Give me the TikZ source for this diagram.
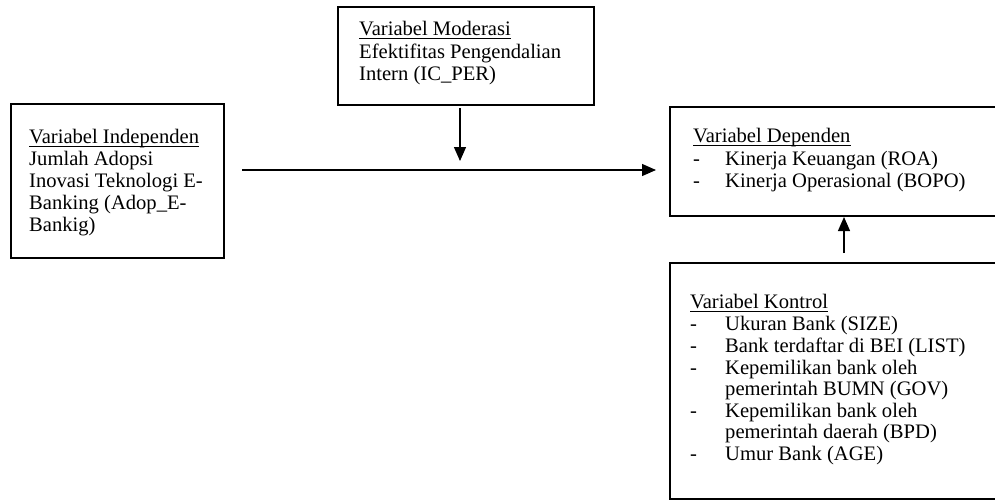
\documentclass[tikz,border=0pt]{standalone}
\usepackage{fontspec}
\setmainfont{Liberation Serif}
\usetikzlibrary{arrows.meta}
\begin{document}
\begin{tikzpicture}[x=1pt,y=-1pt,
  boxline/.style={draw=black,line width=2.4pt},
  txt/.style={anchor=base west,inner sep=0pt,font=\fontsize{20.6}{22}\selectfont},
  arr/.style={draw=black,line width=1.3pt,-{Triangle[length=14pt,width=12pt]}},
  uline/.style={draw=black,line width=1pt}]
\useasboundingbox (0,0) rectangle (995,499);
\clip (0,0) rectangle (995,499);
% boxes
\node[boxline,rectangle,minimum width=213pt,minimum height=154pt,anchor=north west,inner sep=0pt] (ind) at (10,103) {};
\node[boxline,rectangle,minimum width=256pt,minimum height=98pt,anchor=north west,inner sep=0pt] (mod) at (337,6) {};
\node[boxline,rectangle,minimum width=340pt,minimum height=109pt,anchor=north west,inner sep=0pt] (dep) at (669,106) {};
\node[boxline,rectangle,minimum width=340pt,minimum height=236pt,anchor=north west,inner sep=0pt] (kon) at (669,262) {};
% independent text
\node[txt] (i1) at (29,143) {Variabel Independen};
\node[txt] (i2) at (29,165) {Jumlah Adopsi};
\node[txt] (i3) at (29,187) {Inovasi Teknologi E-};
\node[txt] (i4) at (29,209) {Banking (Adop\_E-};
\node[txt] (i5) at (29,231) {Bankig)};
\draw[uline] ([yshift=-3pt]i1.base west) -- ([yshift=-3pt]i1.base east);
% moderation text
\node[txt] (m1) at (359,35) {Variabel Moderasi};
\node[txt] (m2) at (359,58) {Efektifitas Pengendalian};
\node[txt] (m3) at (359,80) {Intern (IC\_PER)};
\draw[uline] ([yshift=-3pt]m1.base west) -- ([yshift=-3pt]m1.base east);
% dependent text
\node[txt] (d1) at (693,142) {Variabel Dependen};
\node[txt] (dd1) at (693,165) {-};
\node[txt] (d2) at (725,165) {Kinerja Keuangan (ROA)};
\node[txt] (dd2) at (693,187) {-};
\node[txt] (d3) at (725,187) {Kinerja Operasional (BOPO)};
\draw[uline] ([yshift=-3pt]d1.base west) -- ([yshift=-3pt]d1.base east);
% control text
\node[txt] (k0) at (690,308) {Variabel Kontrol};
\draw[uline] ([yshift=-3pt]k0.base west) -- ([yshift=-3pt]k0.base east);
\node[txt] (kd1) at (690,330) {-};
\node[txt] (k1) at (725,330) {Ukuran Bank (SIZE)};
\node[txt] (kd2) at (690,352) {-};
\node[txt] (k2) at (725,352) {Bank terdaftar di BEI (LIST)};
\node[txt] (kd3) at (690,374) {-};
\node[txt] (k3) at (725,374) {Kepemilikan bank oleh};
\node[txt] (k4) at (725,395) {pemerintah BUMN (GOV)};
\node[txt] (kd5) at (690,417) {-};
\node[txt] (k5) at (725,417) {Kepemilikan bank oleh};
\node[txt] (k6) at (725,438) {pemerintah daerah (BPD)};
\node[txt] (kd7) at (690,460) {-};
\node[txt] (k7) at (725,460) {Umur Bank (AGE)};
% arrows
\coordinate (hs) at (242,170);
\coordinate (he) at (656,170);
\coordinate (vs) at (460,108);
\coordinate (ve) at (460,161);
\coordinate (us) at (844,253);
\coordinate (ue) at (844,217);
\draw[arr] (hs) -- (he);
\draw[arr] (vs) -- (ve);
\draw[arr] (us) -- (ue);
\end{tikzpicture}
\end{document}
